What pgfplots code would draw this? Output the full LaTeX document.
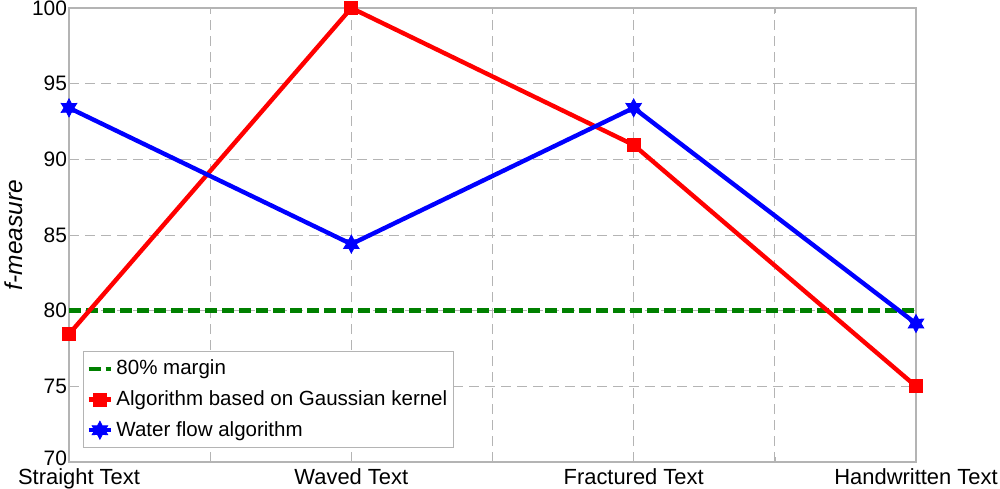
\documentclass[border=0pt]{standalone}
\usepackage{fontspec}
\setmainfont{Liberation Sans}
\usepackage{pgfplots}
\pgfplotsset{compat=1.18}
\usetikzlibrary{calc}
\definecolor{GridGray}{HTML}{B4B4B4}
\definecolor{MGreen}{HTML}{008000}

\pgfdeclareplotmark{hexstar}{%
  \pgfpathmoveto{\pgfqpointpolar{90}{\pgfplotmarksize}}%
  \pgfpathlineto{\pgfqpointpolar{120}{0.55\pgfplotmarksize}}%
  \pgfpathlineto{\pgfqpointpolar{150}{\pgfplotmarksize}}%
  \pgfpathlineto{\pgfqpointpolar{180}{0.55\pgfplotmarksize}}%
  \pgfpathlineto{\pgfqpointpolar{210}{\pgfplotmarksize}}%
  \pgfpathlineto{\pgfqpointpolar{240}{0.55\pgfplotmarksize}}%
  \pgfpathlineto{\pgfqpointpolar{270}{\pgfplotmarksize}}%
  \pgfpathlineto{\pgfqpointpolar{300}{0.55\pgfplotmarksize}}%
  \pgfpathlineto{\pgfqpointpolar{330}{\pgfplotmarksize}}%
  \pgfpathlineto{\pgfqpointpolar{0}{0.55\pgfplotmarksize}}%
  \pgfpathlineto{\pgfqpointpolar{30}{\pgfplotmarksize}}%
  \pgfpathlineto{\pgfqpointpolar{60}{0.55\pgfplotmarksize}}%
  \pgfpathclose
  \pgfusepathqfillstroke}

\begin{document}
\begin{tikzpicture}
\begin{axis}[
  scale only axis,
  width=423.5bp,height=227bp,
  xmin=0,xmax=3,ymin=70,ymax=100,
  xtick={0,0.5,...,3},
  xticklabels={\hspace*{10bp}Straight Text,,Waved Text,,Fractured Text,,Handwritten Text},
  ytick={70,75,...,100},
  yticklabels={\raisebox{3.5bp}{70},75,80,85,90,95,100},
  grid=major,
  major grid style={GridGray,dash pattern=on 5bp off 3bp,line width=0.5bp},
  axis line style={GridGray,line width=0.6bp},
  tick style={GridGray},
  major tick length=2.5bp,
  tick align=inside,
  x tick label style={font=\fontsize{11}{13}\selectfont,yshift=0bp},
  y tick label style={font=\fontsize{10.5}{12}\selectfont,xshift=2.5bp},
  ylabel={\itshape f-measure},
  ylabel style={font=\fontsize{12.3}{14}\selectfont,yshift=-2bp},
  clip=false,
  legend style={font=\fontsize{10.3}{12.5}\selectfont,draw=GridGray,fill=white,
    at={(0.0165,0.031)},anchor=south west,
    row sep=2.4bp,inner xsep=1.5bp,inner ysep=2.2bp,
    nodes={inner xsep=1.5bp}},
  legend cell align=left,
  legend image code/.code={%
    \draw[mark repeat=2,mark phase=2] plot coordinates {(0cm,0cm)(0.2cm,0cm)(0.4cm,0cm)};},
]
\addplot[MGreen,line width=2.2bp,dash pattern=on 6bp off 2.5bp]
  coordinates {(0,80)(3,80)};
\addlegendentry{80\% margin}
\addplot[red,line width=2.2bp,mark=square*,mark size=2.4bp,mark options={solid}]
  coordinates {(0,78.45)(1,100)(2,90.95)(3,75)};
\addlegendentry{Algorithm based on Gaussian kernel}
\addplot[blue,line width=2.2bp,mark=hexstar,mark size=4.5bp,mark options={solid,line width=0.4bp}]
  coordinates {(0,93.4)(1,84.4)(2,93.4)(3,79.15)};
\addlegendentry{Water flow algorithm}
\end{axis}
\pgfresetboundingbox
\path[use as bounding box] ($(current axis.south west)+(-34.5bp,-13.5bp)$) rectangle ($(current axis.north east)+(42bp,4bp)$);
\end{tikzpicture}
\end{document}
